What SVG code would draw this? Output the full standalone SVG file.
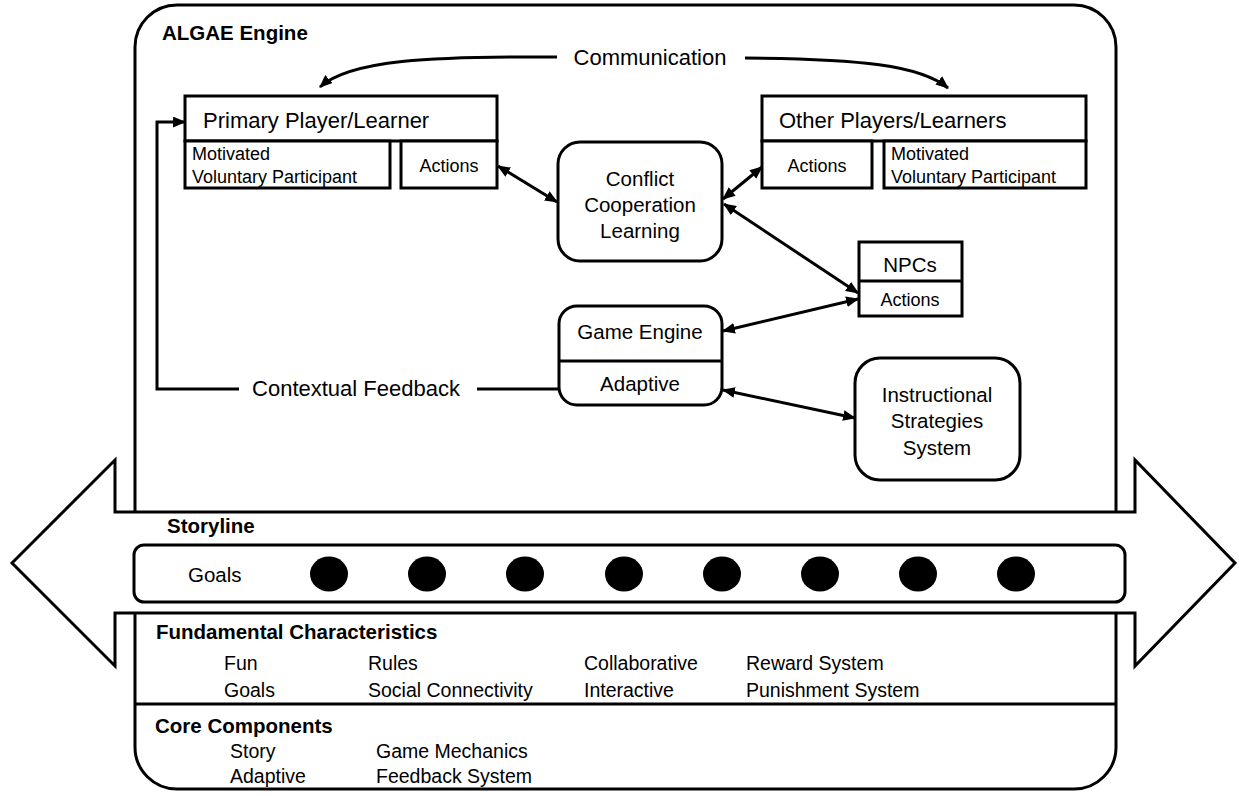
<svg xmlns="http://www.w3.org/2000/svg" width="1239" height="796" viewBox="0 0 1239 796">
<style>
.box{fill:#fff;stroke:#000;stroke-width:3}
.ln{fill:none;stroke:#000;stroke-width:3}
text{font-family:"Liberation Sans",Arial,sans-serif;fill:#000}
.lg{font-size:22px}
.md{font-size:20.5px}
.sm{font-size:18px}
.bt{font-size:19.5px}
.hd{font-size:20.5px;font-weight:bold}
.c{text-anchor:middle}
.conn{fill:none;stroke:#000;stroke-width:3}
</style>
<defs>
<marker id="ah" viewBox="0 0 12 10" refX="11" refY="5" markerWidth="13" markerHeight="11" markerUnits="userSpaceOnUse" orient="auto-start-reverse">
<path d="M0,0 L12,5 L0,10 z" fill="#000"/>
</marker>
</defs>
<rect width="1239" height="796" fill="#fff"/>

<g id="algae-engine">
<rect class="box" x="135" y="5" width="981" height="784" rx="42"/>
<text class="hd" x="162" y="40">ALGAE Engine</text>
</g>

<g id="storyline">
<polygon class="box" stroke-linejoin="miter" points="12,563 115,460 115,512 1135,512 1135,460 1235,563 1135,666 1135,613 115,613 115,666"/>
<text class="hd" x="167" y="533">Storyline</text>
</g>

<g id="goals">
<rect class="box" x="134" y="545" width="991" height="57" rx="10"/>
<text class="md" x="188" y="582">Goals</text>
<ellipse cx="329" cy="574" rx="19" ry="17.5"/>
<ellipse cx="427" cy="574" rx="19" ry="17.5"/>
<ellipse cx="525" cy="574" rx="19" ry="17.5"/>
<ellipse cx="624" cy="574" rx="19" ry="17.5"/>
<ellipse cx="722" cy="574" rx="19" ry="17.5"/>
<ellipse cx="820" cy="574" rx="19" ry="17.5"/>
<ellipse cx="918" cy="574" rx="19" ry="17.5"/>
<ellipse cx="1016" cy="574" rx="19" ry="17.5"/>
</g>

<g id="fundamental">
<text class="hd" x="156" y="639">Fundamental Characteristics</text>
<text class="bt" x="224" y="670">Fun</text>
<text class="bt" x="368" y="670">Rules</text>
<text class="bt" x="584" y="670">Collaborative</text>
<text class="bt" x="746" y="670">Reward System</text>
<text class="bt" x="224" y="697">Goals</text>
<text class="bt" x="368" y="697">Social Connectivity</text>
<text class="bt" x="584" y="697">Interactive</text>
<text class="bt" x="746" y="697">Punishment System</text>
<line class="ln" x1="135" y1="704" x2="1116" y2="704"/>
</g>

<g id="core">
<text class="hd" x="155" y="733">Core Components</text>
<text class="bt" x="230" y="758">Story</text>
<text class="bt" x="376" y="758">Game Mechanics</text>
<text class="bt" x="230" y="783">Adaptive</text>
<text class="bt" x="376" y="783">Feedback System</text>
</g>

<g id="primary-player">
<rect class="box" x="185" y="96" width="312" height="45"/>
<text class="lg" x="203" y="128">Primary Player/Learner</text>
<rect class="box" x="185" y="141" width="205" height="47"/>
<text class="sm" x="192" y="160">Motivated</text>
<text class="sm" x="192" y="183">Voluntary Participant</text>
<rect class="box" x="401" y="141" width="96" height="47"/>
<text class="sm c" x="449" y="172">Actions</text>
</g>

<g id="other-players">
<rect class="box" x="762" y="96" width="324" height="45"/>
<text class="lg" x="779" y="128">Other Players/Learners</text>
<rect class="box" x="762" y="141" width="110" height="47"/>
<text class="sm c" x="817" y="172">Actions</text>
<rect class="box" x="884" y="141" width="202" height="47"/>
<text class="sm" x="891" y="160">Motivated</text>
<text class="sm" x="891" y="183">Voluntary Participant</text>
</g>

<g id="conflict">
<rect class="box" x="558" y="142" width="164" height="119" rx="22"/>
<text class="md c" x="640" y="186">Conflict</text>
<text class="md c" x="640" y="212">Cooperation</text>
<text class="md c" x="640" y="238">Learning</text>
</g>

<g id="npcs">
<rect class="box" x="859" y="242" width="103" height="74"/>
<line class="ln" x1="859" y1="281" x2="962" y2="281"/>
<text class="md c" x="910" y="272">NPCs</text>
<text class="sm c" x="910" y="306">Actions</text>
</g>

<g id="game-engine">
<rect class="box" x="559" y="306" width="163" height="99" rx="18"/>
<line class="ln" x1="559" y1="361" x2="722" y2="361"/>
<text class="md c" x="640" y="339">Game Engine</text>
<text class="md c" x="640" y="391">Adaptive</text>
</g>

<g id="instructional">
<rect class="box" x="855" y="358" width="165" height="122" rx="25"/>
<text class="md c" x="937" y="402">Instructional</text>
<text class="md c" x="937" y="428">Strategies</text>
<text class="md c" x="937" y="455">System</text>
</g>

<g id="connectors">
<path class="conn" d="M557 57 C430 56 350 60 320 87" marker-end="url(#ah)"/>
<path class="conn" d="M745 58 C860 59 920 65 948 88" marker-end="url(#ah)"/>
<text class="lg c" x="650" y="65">Communication</text>
<path class="conn" d="M559 389 H477 M239 389 H157 V122 H185" marker-end="url(#ah)"/>
<text class="lg c" x="356" y="396">Contextual Feedback</text>
<line class="conn" x1="498" y1="166" x2="557" y2="202" marker-start="url(#ah)" marker-end="url(#ah)"/>
<line class="conn" x1="723" y1="199" x2="762" y2="167" marker-start="url(#ah)" marker-end="url(#ah)"/>
<line class="conn" x1="724" y1="204" x2="858" y2="293" marker-start="url(#ah)" marker-end="url(#ah)"/>
<line class="conn" x1="723" y1="331" x2="858" y2="299" marker-start="url(#ah)" marker-end="url(#ah)"/>
<line class="conn" x1="723" y1="390" x2="855" y2="418" marker-start="url(#ah)" marker-end="url(#ah)"/>
</g>
</svg>
